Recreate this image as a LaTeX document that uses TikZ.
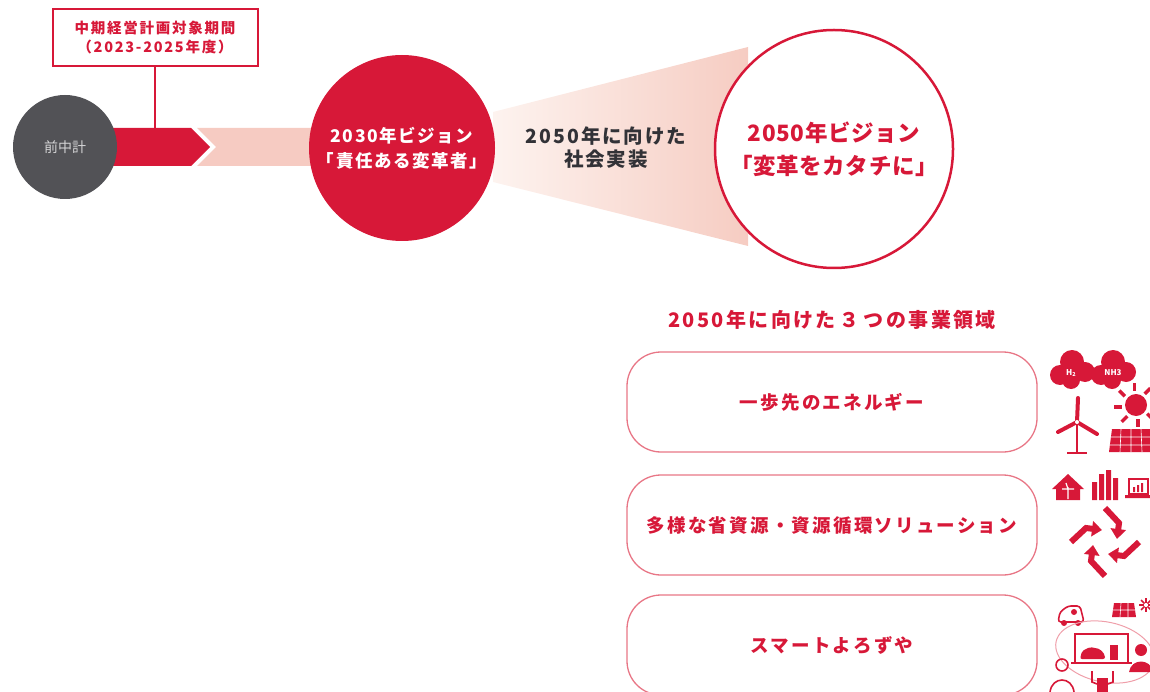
\documentclass[tikz,border=0pt]{standalone}
\usepackage{fontspec}
\setmainfont{Noto Sans CJK JP}
\usetikzlibrary{arrows.meta}

\definecolor{brandred}{RGB}{215,24,56}
\definecolor{boxline}{RGB}{232,118,134}
\definecolor{bandpink}{RGB}{246,203,194}
\definecolor{conelight}{RGB}{253,243,239}
\definecolor{coneright}{RGB}{246,204,194}
\definecolor{prevgray}{RGB}{82,82,86}
\definecolor{textgray}{RGB}{50,50,55}

\begin{document}
\begin{tikzpicture}[x=1pt,y=-1pt,
  jpbold/.style n args={3}{font=\bfseries\fontsize{#1}{#2}\selectfont\addfontfeature{LetterSpace=#3},align=center},
  area/.style={draw=boxline,line width=1.3pt,rounded corners=34pt,minimum width=410pt,
    minimum height=100pt,text=brandred,jpbold={18.5}{22}{12}},
  ring/.style={circle,inner sep=0pt,align=center}]
\useasboundingbox (0,0) rectangle (1150,692);
\begin{scope}
\clip (0,0) rectangle (1150,692);

% cone towards 2050 and the plan period bar
\shade[left color=conelight,right color=coneright] (493,112) -- (748,47) -- (748,246) -- (493,182) -- cycle;
\fill[bandpink] (197,128) -- (320,128) -- (320,166) -- (197,166) -- (216,147) -- cycle;
\fill[brandred] (100,128) -- (191,128) -- (210,147) -- (191,166) -- (100,166) -- cycle;

\node[ring,fill=prevgray,minimum size=104pt,text=white!75!prevgray,font=\fontsize{14}{16}\selectfont] (prev) at (65,147) {前中計};
\node[ring,fill=brandred,minimum size=186pt,text=white,jpbold={17.5}{25}{9}] (v2030) at (402,148) {2030年ビジョン\\「責任ある変革者」};
\node[text=textgray,jpbold={19.5}{23}{10}] (impl) at (606,148) {2050年に向けた\\社会実装};
\node[ring,draw=brandred,line width=2.5pt,fill=white,minimum size=238pt,text=brandred,jpbold={22.5}{33}{3}] (v2050) at (834,149) {2050年ビジョン\\「変革をカタチに」};

% plan period label
\node[draw=brandred,line width=2pt,fill=white,minimum width=205pt,minimum height=57pt,text=brandred,jpbold={14.5}{19}{12}] (term) at (155,38) {中期経営計画対象期間\\（2023-2025年度）};
\coordinate (bar) at (155,128);
\draw[brandred,line width=2pt] (term.south) -- (bar);

% three business areas
\node[text=brandred,jpbold={20}{22}{12}] (areas) at (832,320) {2050年に向けた\hspace{.2em}３\hspace{.2em}つの事業領域};
\node[area] (energy) at (832,402) {一歩先のエネルギー};
\node[area] (cycle) at (832,525) {多様な省資源・資源循環ソリューション};
\node[area] (smart) at (832,645) {スマートよろずや};

% energy icons
\fill[brandred] (1060,375) circle (10pt) (1072,362) circle (12pt) (1085,372) circle (10pt) (1071,380) circle (9pt);
\fill[brandred] (1101,375) circle (10pt) (1113,362) circle (12pt) (1126,372) circle (10pt) (1112,380) circle (9pt);
\node[text=white,font=\bfseries\fontsize{8}{8}\selectfont,inner sep=0pt] (h2) at (1071,373) {H\raisebox{-1pt}{\fontsize{5.5}{5.5}\selectfont 2}};
\node[text=white,font=\bfseries\fontsize{8}{8}\selectfont,inner sep=0pt] (nh3) at (1113,373) {NH3};
\fill[brandred] (1136,405) circle (11pt);
\foreach \a in {0,45,...,315}
  \fill[brandred] (1136,405) ++(\a:14pt) -- ++(\a+90:3.5pt) -- ++(\a:8pt) -- ++(\a-90:3.5pt) -- cycle;
\draw[brandred,line width=4pt,line cap=round] (1077,422) -- (1078,398) (1077,422) -- (1058,432) (1077,422) -- (1097,434);
\draw[brandred,line width=2.5pt] (1077,422) -- (1077,453) (1067,453) -- (1087,453);
\fill[white] (1077,422) circle (2pt);
\fill[brandred] (1112,429) -- (1152,429) -- (1154,452) -- (1109,452) -- cycle;
\draw[white,line width=0.6pt] (1111,437) -- (1153,437) (1110,445) -- (1154,445) (1121,429) -- (1120,452) (1131,429) -- (1131,452) (1141,429) -- (1142,452);

% resource icons
\fill[brandred] (1052,489) -- (1068,474) -- (1084,489) -- (1080,489) -- (1080,500) -- (1056,500) -- (1056,489) -- cycle;
\draw[white,line width=1.2pt] (1068,487) -- (1068,499) (1062,489) -- (1074,489) (1068,489) -- (1066,483);
\fill[brandred] (1092,482) rectangle (1097,500) (1099,474) rectangle (1104,500) (1106,470) rectangle (1111,500) (1113,478) rectangle (1118,500);
\draw[brandred,line width=1.6pt] (1129,479) rectangle (1148,494);
\fill[brandred] (1125,495) rectangle (1151,498) (1133,487) rectangle (1135,492) (1137,485) rectangle (1139,492) (1141,483) rectangle (1143,492);
\foreach \r in {0,90,180,270}
  \draw[brandred,line width=6pt,-{Triangle[length=10pt,width=15pt]},rotate around={\r:(1105,542)}]
    (1071,542) -- (1086,528) -- (1102,530);

% smart icons
\draw[brandred,line width=1.6pt,rounded corners=3pt] (1058,622) -- (1060,612) -- (1068,606) -- (1080,606) -- (1084,622) -- cycle;
\fill[brandred] (1064,623) circle (3pt) (1078,623) circle (3pt) (1074,612) circle (3pt);
\fill[brandred] (1114,603) -- (1134,603) -- (1136,617) -- (1112,617) -- cycle;
\draw[white,line width=0.6pt] (1113,610) -- (1135,610) (1121,603) -- (1120,617) (1128,603) -- (1128,617);
\foreach \a in {0,45,...,315}
  \draw[brandred,line width=1.6pt] (1146,605) ++(\a:2pt) -- ++(\a:5pt);
\draw[boxline!70,line width=1pt,rotate around={-12:(1105,652)}] (1105,652) ellipse (50pt and 30pt);
\draw[brandred,line width=1.6pt] (1075,663) -- (1075,634) -- (1128,634) -- (1128,663) (1071,663) -- (1132,663);
\fill[brandred,rounded corners=2pt] (1080,659) -- (1082,651) -- (1090,647) -- (1100,649) -- (1105,655) -- (1105,659) -- cycle;
\fill[brandred] (1110,645) rectangle (1118,660);
\draw[brandred,line width=1.6pt] (1062,665) circle (6pt) (1050,692) .. controls (1052,676) and (1072,676) .. (1074,692);
\fill[brandred] (1141,650) circle (6pt) (1129,672) .. controls (1131,658) and (1151,658) .. (1153,672) -- cycle;
\fill[brandred] (1097,678) rectangle (1108,694);
\draw[brandred,line width=1.6pt] (1092,671) -- (1092,682) -- (1097,684) (1113,671) -- (1113,682) -- (1108,684);
\end{scope}
\end{tikzpicture}
\end{document}
